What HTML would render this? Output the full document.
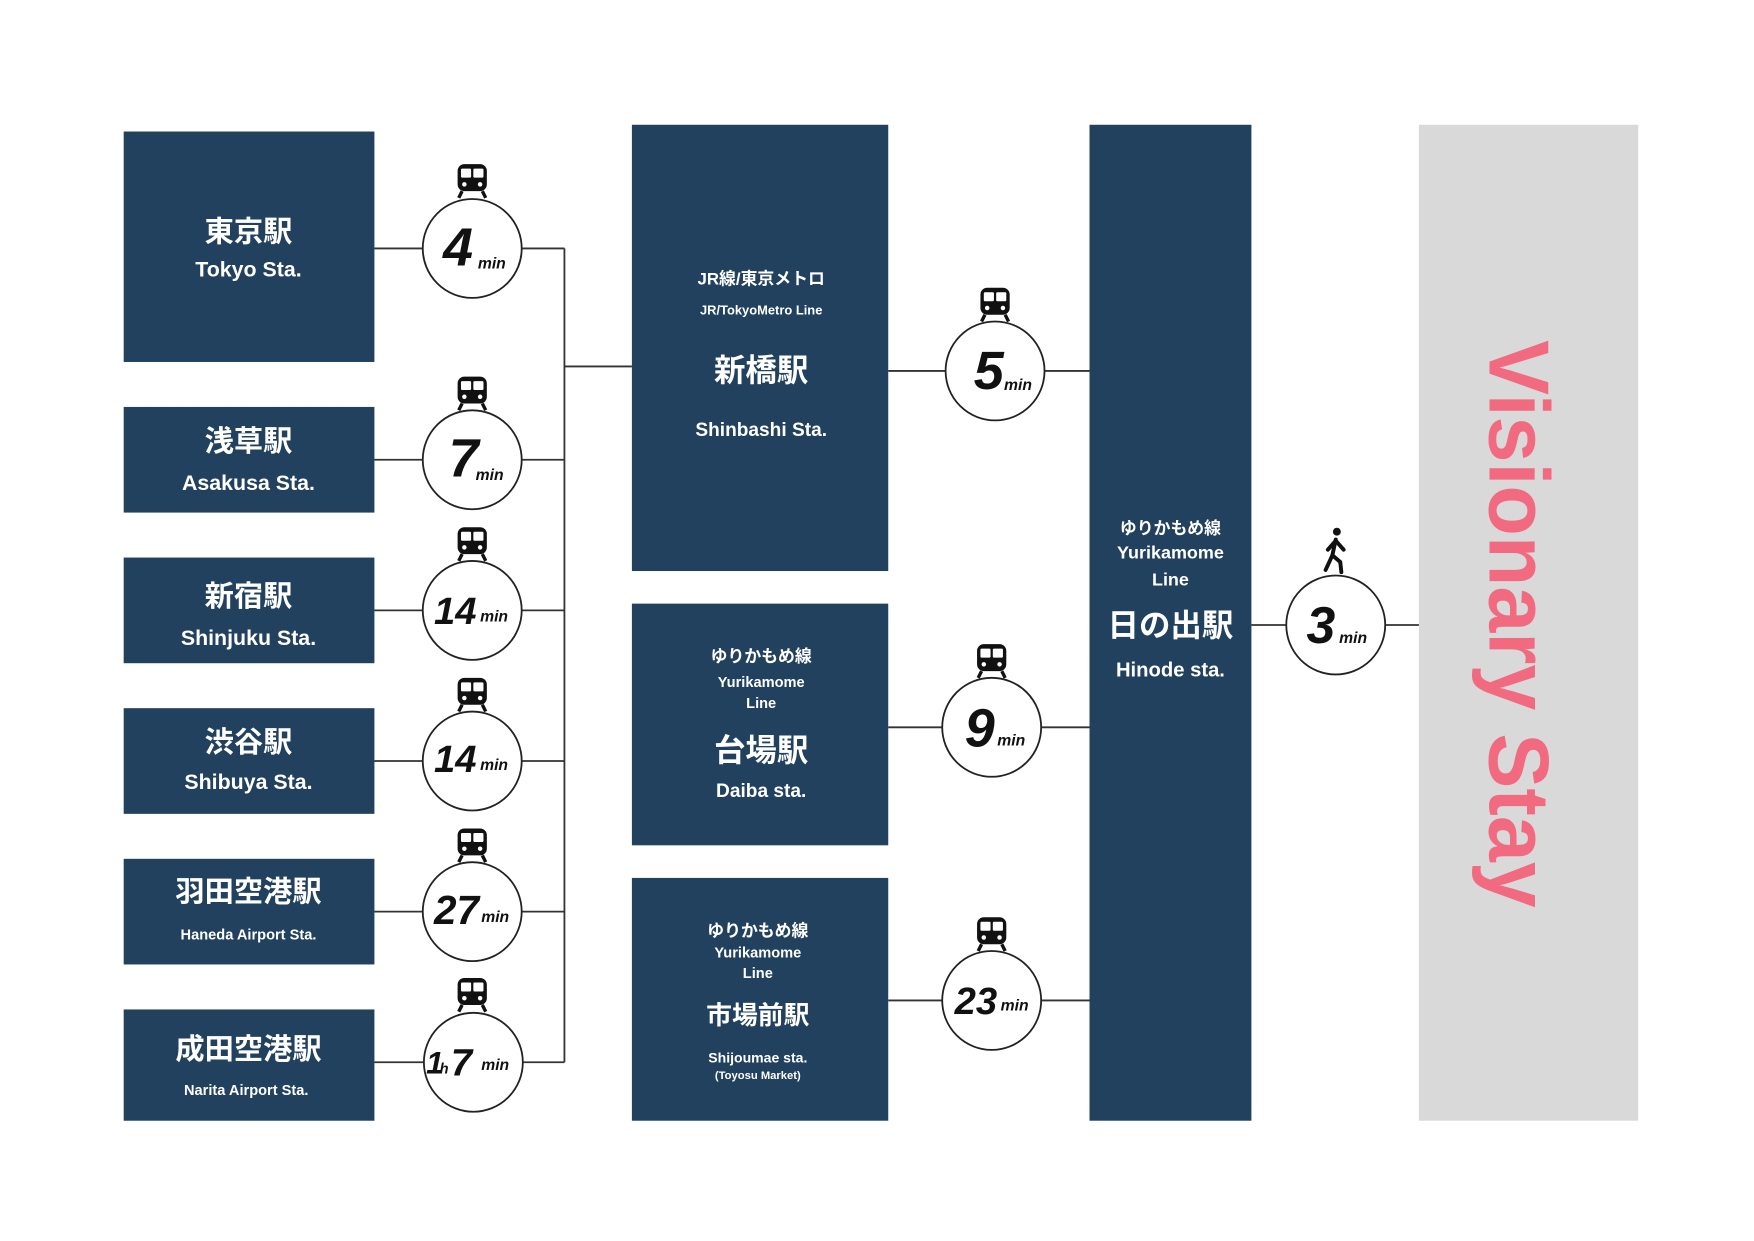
<!DOCTYPE html>
<html><head><meta charset="utf-8">
<style>
html,body{margin:0;padding:0;background:#fff;}
svg{display:block;}
.jp{font-family:"Liberation Sans","Noto Sans CJK JP",sans-serif;font-weight:bold;fill:#fff;text-anchor:middle;}
.num{font-family:"Liberation Sans",sans-serif;font-style:italic;font-weight:bold;fill:#111;}
</style></head>
<body>
<svg width="1754" height="1241" viewBox="0 0 1560 1104" preserveAspectRatio="none" xmlns="http://www.w3.org/2000/svg">
<defs>
<g id="train">
  <rect x="-13" y="0" width="26" height="24" rx="6" fill="#111"/>
  <rect x="-10" y="4" width="9" height="8" rx="1" fill="#fff"/>
  <rect x="1" y="4" width="9" height="8" rx="1" fill="#fff"/>
  <circle cx="-7" cy="18" r="2" fill="#fff"/>
  <circle cx="7" cy="18" r="2" fill="#fff"/>
  <path d="M-9 24 L-12 30 M9 24 L12 30" stroke="#111" stroke-width="3"/>
</g>
</defs>
<rect width="1560" height="1104" fill="#fff"/>

<g stroke="#333" stroke-width="1.6" fill="none">
  <line x1="333" y1="221" x2="502" y2="221"/>
  <line x1="333" y1="409" x2="502" y2="409"/>
  <line x1="333" y1="543" x2="502" y2="543"/>
  <line x1="333" y1="677" x2="502" y2="677"/>
  <line x1="333" y1="811" x2="502" y2="811"/>
  <line x1="333" y1="945" x2="502" y2="945"/>
  <line x1="502" y1="221" x2="502" y2="945"/>
  <line x1="502" y1="326" x2="562" y2="326"/>
  <line x1="790" y1="330" x2="969" y2="330"/>
  <line x1="790" y1="647" x2="969" y2="647"/>
  <line x1="790" y1="890" x2="969" y2="890"/>
  <line x1="1113" y1="556" x2="1262" y2="556"/>
</g>

<g fill="#21415f">
  <rect x="110" y="117" width="223" height="205"/>
  <rect x="110" y="362" width="223" height="94"/>
  <rect x="110" y="496" width="223" height="94"/>
  <rect x="110" y="630" width="223" height="94"/>
  <rect x="110" y="764" width="223" height="94"/>
  <rect x="110" y="898" width="223" height="99"/>
  <rect x="562" y="111" width="228" height="397"/>
  <rect x="562" y="537" width="228" height="215"/>
  <rect x="562" y="781" width="228" height="216"/>
  <rect x="969" y="111" width="144" height="886"/>
</g>
<rect x="1262" y="111" width="195" height="886" fill="#d9d9d9"/>

<text class="jp" x="221" y="215" font-size="26">東京駅</text>
<text class="jp" x="221" y="246" font-size="19">Tokyo Sta.</text>
<text class="jp" x="221" y="401" font-size="26">浅草駅</text>
<text class="jp" x="221" y="436" font-size="19">Asakusa Sta.</text>
<text class="jp" x="221" y="539" font-size="26">新宿駅</text>
<text class="jp" x="221" y="574" font-size="19">Shinjuku Sta.</text>
<text class="jp" x="221" y="669" font-size="26">渋谷駅</text>
<text class="jp" x="221" y="702" font-size="19">Shibuya Sta.</text>
<text class="jp" x="221" y="802" font-size="26">羽田空港駅</text>
<text class="jp" x="221" y="836" font-size="13">Haneda Airport Sta.</text>
<text class="jp" x="221" y="942" font-size="26">成田空港駅</text>
<text class="jp" x="219" y="974" font-size="13">Narita Airport Sta.</text>

<text class="jp" x="677" y="253" font-size="15">JR線/東京メトロ</text>
<text class="jp" x="677" y="280" font-size="11.5">JR/TokyoMetro Line</text>
<text class="jp" x="677" y="339" font-size="28">新橋駅</text>
<text class="jp" x="677" y="388" font-size="17">Shinbashi Sta.</text>

<text class="jp" x="677" y="589" font-size="15">ゆりかもめ線</text>
<text class="jp" x="677" y="611" font-size="13">Yurikamome</text>
<text class="jp" x="677" y="630" font-size="13">Line</text>
<text class="jp" x="677" y="677" font-size="28">台場駅</text>
<text class="jp" x="677" y="709" font-size="17">Daiba sta.</text>

<text class="jp" x="674" y="833" font-size="15">ゆりかもめ線</text>
<text class="jp" x="674" y="852" font-size="13">Yurikamome</text>
<text class="jp" x="674" y="870" font-size="13">Line</text>
<text class="jp" x="674" y="911" font-size="23">市場前駅</text>
<text class="jp" x="674" y="945" font-size="12.5">Shijoumae sta.</text>
<text class="jp" x="674" y="960" font-size="10">(Toyosu Market)</text>

<text class="jp" x="1041" y="475" font-size="15">ゆりかもめ線</text>
<text class="jp" x="1041" y="497" font-size="16">Yurikamome</text>
<text class="jp" x="1041" y="521" font-size="16">Line</text>
<text class="jp" x="1041" y="566" font-size="28">日の出駅</text>
<text class="jp" x="1041" y="602" font-size="18">Hinode sta.</text>

<text x="1350" y="555" transform="rotate(90 1350 555)" text-anchor="middle" dominant-baseline="central" font-family="Liberation Sans, sans-serif" font-weight="bold" font-size="76" textLength="505" lengthAdjust="spacingAndGlyphs" fill="#f26a80">Visionary Stay</text>

<g fill="#fff" stroke="#222" stroke-width="1.6">
  <circle cx="420" cy="221" r="44"/>
  <circle cx="420" cy="409" r="44"/>
  <circle cx="420" cy="543" r="44"/>
  <circle cx="420" cy="677" r="44"/>
  <circle cx="420" cy="811" r="44"/>
  <circle cx="421" cy="945" r="44"/>
  <circle cx="885" cy="330" r="44"/>
  <circle cx="882" cy="647" r="44"/>
  <circle cx="882" cy="890" r="44"/>
  <circle cx="1188" cy="556" r="44"/>
</g>

<use href="#train" x="420" y="146"/>
<use href="#train" x="420" y="335"/>
<use href="#train" x="420" y="469"/>
<use href="#train" x="420" y="603"/>
<use href="#train" x="420" y="737"/>
<use href="#train" x="420" y="870"/>
<use href="#train" x="885" y="256"/>
<use href="#train" x="882" y="573"/>
<use href="#train" x="882" y="816"/>

<g stroke="#111" stroke-width="3.5" fill="none" stroke-linecap="round">
  <circle cx="1189" cy="473" r="3.5" fill="#111" stroke="none"/>
  <path d="M1188 480 L1185 494 L1179 507"/>
  <path d="M1185 494 L1192 500 L1193 509"/>
  <path d="M1181 489 L1188 481 L1195 489"/>
</g>

<text class="num" x="394" y="236" font-size="48">4</text><text class="num" x="425" y="239" font-size="14">min</text>
<text class="num" x="399" y="424" font-size="48">7</text><text class="num" x="423" y="427" font-size="14">min</text>
<text class="num" x="386" y="555" font-size="34">14</text><text class="num" x="427" y="553" font-size="14">min</text>
<text class="num" x="386" y="687" font-size="34">14</text><text class="num" x="427" y="685" font-size="14">min</text>
<text class="num" x="386" y="822" font-size="36">27</text><text class="num" x="428" y="820" font-size="14">min</text>
<text class="num" x="379" y="955" font-size="28">1</text><text class="num" x="391" y="955" font-size="13">h</text><text class="num" x="401" y="957" font-size="34">7</text><text class="num" x="428" y="952" font-size="14">min</text>
<text class="num" x="866" y="346" font-size="48">5</text><text class="num" x="893" y="347" font-size="14">min</text>
<text class="num" x="858" y="664" font-size="48">9</text><text class="num" x="887" y="663" font-size="14">min</text>
<text class="num" x="849" y="902" font-size="34">23</text><text class="num" x="890" y="899" font-size="14">min</text>
<text class="num" x="1162" y="572" font-size="46">3</text><text class="num" x="1191" y="572" font-size="14">min</text>
</svg>
</body></html>
